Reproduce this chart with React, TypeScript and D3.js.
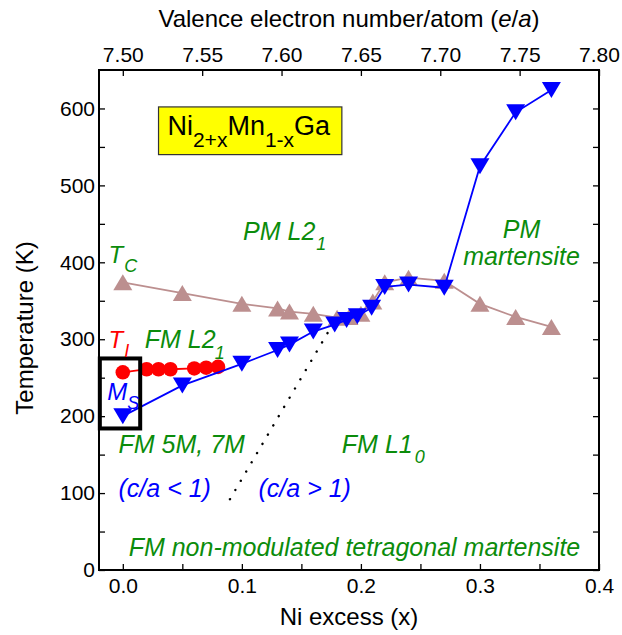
import React, { useEffect, useRef } from "react";
import * as d3 from "d3";

// Ni2+xMn1-xGa phase diagram data
const tcNiExcess = [0, 0.05, 0.1, 0.13, 0.14, 0.16, 0.18, 0.19, 0.2, 0.21, 0.22, 0.24, 0.27, 0.3, 0.33, 0.36];
const tcValues = [374, 360, 346, 340, 336, 333, 328, 329, 333, 349, 374, 380, 376, 346, 329, 316];

const msNiExcess = [0, 0.05, 0.1, 0.13, 0.14, 0.16, 0.178, 0.188, 0.197, 0.209, 0.22, 0.24, 0.27, 0.3, 0.33, 0.36];
const msValues = [200, 240, 268, 286, 293, 310, 319, 325, 330, 341, 368, 371, 367, 525, 595, 624];

const tiNiExcess = [0, 0.02, 0.03, 0.04, 0.06, 0.07, 0.08];
const tiValues = [257, 261, 261, 261, 262, 263, 264];

// dotted boundary between modulated and L10 martensite
const boundaryNiExcess = [0.09, 0.175];
const boundaryValues = [92, 316];

const xTicks = [0, 0.05, 0.1, 0.15, 0.2, 0.25, 0.3, 0.35, 0.4];
const yTicks = [0, 50, 100, 150, 200, 250, 300, 350, 400, 450, 500, 550, 600];
const eaTicks = [7.5, 7.55, 7.6, 7.65, 7.7, 7.75, 7.8];

const FONT = "'Liberation Sans', Arial, Helvetica, sans-serif";
const GREEN = "#0b8c0b";
const BROWN = "#bc8f8f";

const App = () => {
  const svgRef = useRef();

  useEffect(() => {
    const width = 622;
    const height = 635;
    const left = 99, right = 599, top = 70, bottom = 570;

    const x = d3.scaleLinear().domain([-0.02, 0.4]).range([left, right]);
    const y = d3.scaleLinear().domain([0, 650]).range([bottom, top]);
    // e/a = 7.5 + 0.75 x
    const xTop = d3.scaleLinear().domain([7.5 - 0.75 * 0.02, 7.8]).range([left, right]);

    const svg = d3.select(svgRef.current)
      .attr("width", width)
      .attr("height", height)
      .attr("viewBox", `0 0 ${width} ${height}`)
      .style("font-family", FONT);

    svg.selectAll("*").remove();

    svg.append("rect").attr("width", width).attr("height", height).attr("fill", "white");

    // axes (ticks point inward)
    const styleAxis = (g) => {
      g.select(".domain").remove();
      g.selectAll(".tick line").attr("stroke", "black").attr("stroke-width", 1.3);
      g.selectAll(".tick text").attr("fill", "black").style("font-family", FONT).style("font-size", "21px");
    };

    svg.append("g")
      .attr("transform", `translate(0,${bottom})`)
      .call(d3.axisBottom(x).tickValues(xTicks).tickSize(-6).tickPadding(8)
        .tickFormat((d, i) => (i % 2 === 0 ? d3.format(".1f")(d) : "")))
      .call(styleAxis);

    svg.append("g")
      .attr("transform", `translate(${left},0)`)
      .call(d3.axisLeft(y).tickValues(yTicks).tickSize(-6).tickPadding(4)
        .tickFormat((d, i) => (i % 2 === 0 ? String(d) : "")))
      .call(styleAxis);

    svg.append("g")
      .attr("transform", `translate(${right},0)`)
      .call(d3.axisRight(y).tickValues(yTicks).tickSize(-6).tickFormat(() => ""))
      .call(styleAxis);

    svg.append("g")
      .attr("transform", `translate(0,${top})`)
      .call(d3.axisTop(xTop).tickValues(eaTicks).tickSize(-6).tickPadding(8)
        .tickFormat(d3.format(".2f")))
      .call(styleAxis);

    // frame
    svg.append("rect")
      .attr("x", left).attr("y", top)
      .attr("width", right - left).attr("height", bottom - top)
      .attr("fill", "none").attr("stroke", "black").attr("stroke-width", 2);

    // axis titles
    svg.append("text")
      .attr("x", (left + right) / 2).attr("y", 625)
      .attr("text-anchor", "middle").style("font-size", "24px")
      .text("Ni excess (x)");

    const topTitle = svg.append("text")
      .attr("x", (left + right) / 2).attr("y", 27)
      .attr("text-anchor", "middle").style("font-size", "24px");
    topTitle.append("tspan").text("Valence electron number/atom (");
    topTitle.append("tspan").style("font-style", "italic").text("e");
    topTitle.append("tspan").text("/");
    topTitle.append("tspan").style("font-style", "italic").text("a");
    topTitle.append("tspan").text(")");

    svg.append("text")
      .attr("transform", `translate(33,${(top + bottom) / 2 + 8}) rotate(-90)`)
      .attr("text-anchor", "middle").style("font-size", "24px")
      .text("Temperature (K)");

    // dotted boundary
    const boundary = boundaryNiExcess.map((d, i) => [d, boundaryValues[i]]);
    svg.append("path")
      .attr("d", d3.line().x(d => x(d[0])).y(d => y(d[1]))(boundary))
      .attr("fill", "none")
      .attr("stroke", "black")
      .attr("stroke-width", 2.4)
      .attr("stroke-linecap", "round")
      .attr("stroke-dasharray", "0.1 10.6");

    const line = d3.line().x(d => x(d[0])).y(d => y(d[1]));
    const triUp = (w, h) => `M0,${-h / 2}L${w / 2},${h / 2}L${-w / 2},${h / 2}Z`;
    const triDown = (w, h) => `M0,${h / 2}L${w / 2},${-h / 2}L${-w / 2},${-h / 2}Z`;

    // Tc
    const tc = tcNiExcess.map((d, i) => [d, tcValues[i]]);
    svg.append("path").attr("d", line(tc)).attr("fill", "none").attr("stroke", BROWN).attr("stroke-width", 1.8);
    svg.append("g").selectAll("path").data(tc).join("path")
      .attr("transform", d => `translate(${x(d[0])},${y(d[1])})`)
      .attr("d", triUp(19, 16))
      .attr("fill", BROWN);

    // TI
    const ti = tiNiExcess.map((d, i) => [d, tiValues[i]]);
    svg.append("path").attr("d", line(ti)).attr("fill", "none").attr("stroke", "red").attr("stroke-width", 1.8);
    svg.append("g").selectAll("circle").data(ti).join("circle")
      .attr("cx", d => x(d[0])).attr("cy", d => y(d[1])).attr("r", 7.3)
      .attr("fill", "red");

    // Ms
    const ms = msNiExcess.map((d, i) => [d, msValues[i]]);
    svg.append("path").attr("d", line(ms)).attr("fill", "none").attr("stroke", "blue").attr("stroke-width", 1.8);
    svg.append("g").selectAll("path").data(ms).join("path")
      .attr("transform", d => `translate(${x(d[0])},${y(d[1])})`)
      .attr("d", triDown(19, 16))
      .attr("fill", "blue");

    // highlight box around x = 0
    svg.append("rect")
      .attr("x", x(-0.0193)).attr("y", y(275))
      .attr("width", x(0.0146) - x(-0.0193)).attr("height", y(184) - y(275))
      .attr("fill", "none").attr("stroke", "black").attr("stroke-width", 4);

    // compound label
    svg.append("rect")
      .attr("x", x(0.03)).attr("y", y(602))
      .attr("width", x(0.184) - x(0.03)).attr("height", y(540) - y(602))
      .attr("fill", "#ffff00").attr("stroke", "#333").attr("stroke-width", 1.2);
    const title = svg.append("text").attr("x", x(0.0375)).attr("y", y(565)).style("font-size", "27px");
    [["Ni", false], ["2+x", true], ["Mn", false], ["1-x", true], ["Ga", false]].forEach(([t, sub], i, arr) => {
      const prevSub = i > 0 && arr[i - 1][1];
      title.append("tspan")
        .attr("dy", sub ? 12 : prevSub ? -12 : 0)
        .style("font-size", sub ? "21px" : "27px")
        .text(t);
    });

    // region / curve labels
    const label = (xv, tv, color, main, sub, opts = {}) => {
      const t = svg.append("text")
        .attr("x", x(xv)).attr("y", y(tv))
        .attr("fill", color)
        .attr("text-anchor", opts.anchor || "start")
        .style("font-style", "italic")
        .style("font-size", `${opts.size || 25}px`);
      t.append("tspan").text(main);
      if (sub) {
        t.append("tspan")
          .attr("dx", opts.subDx ?? 2).attr("dy", opts.subDy || 9)
          .style("font-size", `${opts.subSize || 18}px`)
          .text(sub);
      }
      return t;
    };

    label(0.101, 429, GREEN, "PM L2", "1", { subDx: 1, subDy: 10 });
    label(-0.012, 399, GREEN, "T", "C", { size: 24, subDx: 1 });
    label(-0.012, 288, "red", "T", "I", { size: 24, subDx: 1 });
    label(0.0185, 288, GREEN, "FM L2", "1", { subDx: -1, subDy: 11 });
    label(-0.013, 221, "blue", "M", "S", { size: 24, subDx: 0 });
    label(-0.0036, 152, GREEN, "FM 5M, 7M");
    label(0.184, 152, GREEN, "FM L1", "0", { subDx: 2, subDy: 10 });
    label(-0.0036, 95, "blue", "(c/a < 1)");
    label(0.114, 95, "blue", "(c/a > 1)");
    label(0.0049, 18, GREEN, "FM non-modulated tetragonal martensite");
    label(0.335, 431, GREEN, "PM", null, { anchor: "middle" });
    label(0.335, 396, GREEN, "martensite", null, { anchor: "middle" });
  }, []);

  return (
    <svg ref={svgRef} style={{ position: "absolute", left: 0, top: 0, display: "block" }}></svg>
  );
};

export default App;
